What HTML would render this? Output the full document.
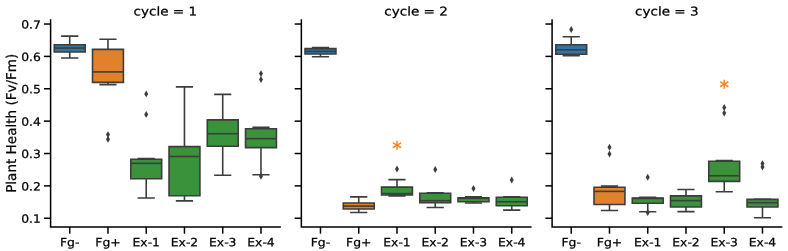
<!DOCTYPE html>
<html><head><meta charset="utf-8"><title>plot</title>
<style>html,body{margin:0;padding:0;background:#fff}svg{display:block}</style></head>
<body>
<svg width="788" height="251" viewBox="0 0 788 251" text-rendering="geometricPrecision" font-family="'DejaVu Sans', 'Liberation Sans', sans-serif">
<rect width="788" height="251" fill="#fff"/>
<g>
<g stroke="#3d3d3d" stroke-width="1.600" fill="none">
<path d="M54.27 52.00H85.17V44.70H54.27Z" fill="#3274a1" stroke-linejoin="miter"/>
<path d="M69.72 52.00V58.00M69.72 44.70V36.10"/>
<path d="M61.92 58.00H77.52M61.92 36.10H77.52" stroke-linecap="square"/>
<path d="M54.27 48.05H85.17"/>
</g>
<g stroke="#3d3d3d" stroke-width="1.600" fill="none">
<path d="M92.52 82.35H123.42V49.40H92.52Z" fill="#e1812c" stroke-linejoin="miter"/>
<path d="M107.97 82.35V84.60M107.97 49.40V39.30"/>
<path d="M100.17 84.60H115.77M100.17 39.30H115.77" stroke-linecap="square"/>
<path d="M92.52 71.90H123.42"/>
</g>
<path d="M107.97 131.15L109.97 134.60L107.97 138.05L105.97 134.60Z" fill="#3d3d3d" />
<path d="M107.97 135.85L109.97 139.30L107.97 142.75L105.97 139.30Z" fill="#3d3d3d" />
<g stroke="#3d3d3d" stroke-width="1.600" fill="none">
<path d="M130.78 178.70H161.67V159.30H130.78Z" fill="#3a923a" stroke-linejoin="miter"/>
<path d="M146.22 178.70V198.00M146.22 159.30V158.60"/>
<path d="M138.42 198.00H154.03M138.42 158.60H154.03" stroke-linecap="square"/>
<path d="M130.78 163.35H161.67"/>
</g>
<path d="M146.22 90.45L148.22 93.90L146.22 97.35L144.22 93.90Z" fill="#3d3d3d" />
<path d="M146.22 110.95L148.22 114.40L146.22 117.85L144.22 114.40Z" fill="#3d3d3d" />
<g stroke="#3d3d3d" stroke-width="1.600" fill="none">
<path d="M169.03 195.70H199.92V146.60H169.03Z" fill="#3a923a" stroke-linejoin="miter"/>
<path d="M184.47 195.70V200.90M184.47 146.60V86.90"/>
<path d="M176.67 200.90H192.28M176.67 86.90H192.28" stroke-linecap="square"/>
<path d="M169.03 156.50H199.92"/>
</g>
<g stroke="#3d3d3d" stroke-width="1.600" fill="none">
<path d="M207.28 146.30H238.17V119.85H207.28Z" fill="#3a923a" stroke-linejoin="miter"/>
<path d="M222.72 146.30V175.30M222.72 119.85V94.40"/>
<path d="M214.92 175.30H230.53M214.92 94.40H230.53" stroke-linecap="square"/>
<path d="M207.28 133.75H238.17"/>
</g>
<g stroke="#3d3d3d" stroke-width="1.600" fill="none">
<path d="M245.53 147.60H276.43V128.80H245.53Z" fill="#3a923a" stroke-linejoin="miter"/>
<path d="M260.98 147.60V174.70M260.98 128.80V127.25"/>
<path d="M253.18 174.70H268.78M253.18 127.25H268.78" stroke-linecap="square"/>
<path d="M245.53 138.70H276.43"/>
</g>
<path d="M260.98 70.15L262.98 73.60L260.98 77.05L258.98 73.60Z" fill="#3d3d3d" />
<path d="M260.98 76.05L262.98 79.50L260.98 82.95L258.98 79.50Z" fill="#3d3d3d" />
<path d="M260.98 172.85L262.98 176.30L260.98 179.75L258.98 176.30Z" fill="#3d3d3d" />
<path d="M50.60 20.10V227.00H280.10" fill="none" stroke="#000" stroke-width="1.500" stroke-linecap="square" stroke-linejoin="miter"/>
<path d="M69.72 227.00v6.67" stroke="#000" stroke-width="1.500"/>
<text transform="translate(69.72 246.20) rotate(0.03) scale(1.085 1)" font-size="11.4" fill="#000" stroke="#000" stroke-width="0.25" text-anchor="middle">Fg-</text>
<path d="M107.97 227.00v6.67" stroke="#000" stroke-width="1.500"/>
<text transform="translate(107.97 246.20) rotate(0.03) scale(1.085 1)" font-size="11.4" fill="#000" stroke="#000" stroke-width="0.25" text-anchor="middle">Fg+</text>
<path d="M146.22 227.00v6.67" stroke="#000" stroke-width="1.500"/>
<text transform="translate(146.22 246.20) rotate(0.03) scale(1.085 1)" font-size="11.4" fill="#000" stroke="#000" stroke-width="0.25" text-anchor="middle">Ex-1</text>
<path d="M184.47 227.00v6.67" stroke="#000" stroke-width="1.500"/>
<text transform="translate(184.47 246.20) rotate(0.03) scale(1.085 1)" font-size="11.4" fill="#000" stroke="#000" stroke-width="0.25" text-anchor="middle">Ex-2</text>
<path d="M222.72 227.00v6.67" stroke="#000" stroke-width="1.500"/>
<text transform="translate(222.72 246.20) rotate(0.03) scale(1.085 1)" font-size="11.4" fill="#000" stroke="#000" stroke-width="0.25" text-anchor="middle">Ex-3</text>
<path d="M260.98 227.00v6.67" stroke="#000" stroke-width="1.500"/>
<text transform="translate(260.98 246.20) rotate(0.03) scale(1.085 1)" font-size="11.4" fill="#000" stroke="#000" stroke-width="0.25" text-anchor="middle">Ex-4</text>
<path d="M50.60 218.25h-6.67" stroke="#000" stroke-width="1.500"/>
<text transform="translate(40.83 222.85) rotate(0.03) scale(1.085 1)" font-size="11.4" fill="#000" stroke="#000" stroke-width="0.25" text-anchor="end">0.1</text>
<path d="M50.60 185.88h-6.67" stroke="#000" stroke-width="1.500"/>
<text transform="translate(40.83 190.48) rotate(0.03) scale(1.085 1)" font-size="11.4" fill="#000" stroke="#000" stroke-width="0.25" text-anchor="end">0.2</text>
<path d="M50.60 153.51h-6.67" stroke="#000" stroke-width="1.500"/>
<text transform="translate(40.83 158.11) rotate(0.03) scale(1.085 1)" font-size="11.4" fill="#000" stroke="#000" stroke-width="0.25" text-anchor="end">0.3</text>
<path d="M50.60 121.14h-6.67" stroke="#000" stroke-width="1.500"/>
<text transform="translate(40.83 125.74) rotate(0.03) scale(1.085 1)" font-size="11.4" fill="#000" stroke="#000" stroke-width="0.25" text-anchor="end">0.4</text>
<path d="M50.60 88.77h-6.67" stroke="#000" stroke-width="1.500"/>
<text transform="translate(40.83 93.37) rotate(0.03) scale(1.085 1)" font-size="11.4" fill="#000" stroke="#000" stroke-width="0.25" text-anchor="end">0.5</text>
<path d="M50.60 56.40h-6.67" stroke="#000" stroke-width="1.500"/>
<text transform="translate(40.83 61.00) rotate(0.03) scale(1.085 1)" font-size="11.4" fill="#000" stroke="#000" stroke-width="0.25" text-anchor="end">0.6</text>
<path d="M50.60 24.03h-6.67" stroke="#000" stroke-width="1.500"/>
<text transform="translate(40.83 28.63) rotate(0.03) scale(1.085 1)" font-size="11.4" fill="#000" stroke="#000" stroke-width="0.25" text-anchor="end">0.7</text>
<text transform="translate(165.35 15.45) rotate(0.03) scale(1.12 1)" font-size="12.1" fill="#000" stroke="#000" stroke-width="0.25" text-anchor="middle">cycle = 1</text>
</g>
<g>
<g stroke="#3d3d3d" stroke-width="1.600" fill="none">
<path d="M305.03 54.00H335.93V48.60H305.03Z" fill="#3274a1" stroke-linejoin="miter"/>
<path d="M320.48 54.00V56.80M320.48 48.60V47.60"/>
<path d="M312.68 56.80H328.28M312.68 47.60H328.28" stroke-linecap="square"/>
<path d="M305.03 51.35H335.93"/>
</g>
<g stroke="#3d3d3d" stroke-width="1.600" fill="none">
<path d="M343.28 209.00H374.18V202.95H343.28Z" fill="#e1812c" stroke-linejoin="miter"/>
<path d="M358.73 209.00V212.55M358.73 202.95V196.85"/>
<path d="M350.93 212.55H366.53M350.93 196.85H366.53" stroke-linecap="square"/>
<path d="M343.28 206.10H374.18"/>
</g>
<g stroke="#3d3d3d" stroke-width="1.600" fill="none">
<path d="M381.53 195.00H412.43V187.15H381.53Z" fill="#3a923a" stroke-linejoin="miter"/>
<path d="M396.98 195.00V195.90M396.98 187.15V179.60"/>
<path d="M389.18 195.90H404.78M389.18 179.60H404.78" stroke-linecap="square"/>
<path d="M381.53 193.60H412.43"/>
</g>
<path d="M396.98 165.60L398.98 169.05L396.98 172.50L394.98 169.05Z" fill="#3d3d3d" />
<g stroke="#3d3d3d" stroke-width="1.600" fill="none">
<path d="M419.78 202.80H450.68V193.30H419.78Z" fill="#3a923a" stroke-linejoin="miter"/>
<path d="M435.23 202.80V207.55M435.23 193.30V192.90"/>
<path d="M427.43 207.55H443.03M427.43 192.90H443.03" stroke-linecap="square"/>
<path d="M419.78 200.70H450.68"/>
</g>
<path d="M435.23 166.10L437.23 169.55L435.23 173.00L433.23 169.55Z" fill="#3d3d3d" />
<g stroke="#3d3d3d" stroke-width="1.600" fill="none">
<path d="M458.03 201.70H488.93V197.90H458.03Z" fill="#3a923a" stroke-linejoin="miter"/>
<path d="M473.48 201.70V203.00M473.48 197.90V196.80"/>
<path d="M465.68 203.00H481.28M465.68 196.80H481.28" stroke-linecap="square"/>
<path d="M458.03 198.30H488.93"/>
</g>
<path d="M473.48 185.05L475.48 188.50L473.48 191.95L471.48 188.50Z" fill="#3d3d3d" />
<g stroke="#3d3d3d" stroke-width="1.600" fill="none">
<path d="M496.28 205.80H527.18V197.20H496.28Z" fill="#3a923a" stroke-linejoin="miter"/>
<path d="M511.73 205.80V210.10M511.73 197.20V196.80"/>
<path d="M503.93 210.10H519.52M503.93 196.80H519.52" stroke-linecap="square"/>
<path d="M496.28 201.75H527.18"/>
</g>
<path d="M511.73 176.55L513.73 180.00L511.73 183.45L509.73 180.00Z" fill="#3d3d3d" />
<text x="396.98" y="155.00" font-size="19" fill="#f97c12" stroke="#f97c12" stroke-width="0.3" text-anchor="middle">*</text>
<path d="M301.35 20.10V227.00H530.85" fill="none" stroke="#000" stroke-width="1.500" stroke-linecap="square" stroke-linejoin="miter"/>
<path d="M320.48 227.00v6.67" stroke="#000" stroke-width="1.500"/>
<text transform="translate(320.48 246.20) rotate(0.03) scale(1.085 1)" font-size="11.4" fill="#000" stroke="#000" stroke-width="0.25" text-anchor="middle">Fg-</text>
<path d="M358.73 227.00v6.67" stroke="#000" stroke-width="1.500"/>
<text transform="translate(358.73 246.20) rotate(0.03) scale(1.085 1)" font-size="11.4" fill="#000" stroke="#000" stroke-width="0.25" text-anchor="middle">Fg+</text>
<path d="M396.98 227.00v6.67" stroke="#000" stroke-width="1.500"/>
<text transform="translate(396.98 246.20) rotate(0.03) scale(1.085 1)" font-size="11.4" fill="#000" stroke="#000" stroke-width="0.25" text-anchor="middle">Ex-1</text>
<path d="M435.23 227.00v6.67" stroke="#000" stroke-width="1.500"/>
<text transform="translate(435.23 246.20) rotate(0.03) scale(1.085 1)" font-size="11.4" fill="#000" stroke="#000" stroke-width="0.25" text-anchor="middle">Ex-2</text>
<path d="M473.48 227.00v6.67" stroke="#000" stroke-width="1.500"/>
<text transform="translate(473.48 246.20) rotate(0.03) scale(1.085 1)" font-size="11.4" fill="#000" stroke="#000" stroke-width="0.25" text-anchor="middle">Ex-3</text>
<path d="M511.73 227.00v6.67" stroke="#000" stroke-width="1.500"/>
<text transform="translate(511.73 246.20) rotate(0.03) scale(1.085 1)" font-size="11.4" fill="#000" stroke="#000" stroke-width="0.25" text-anchor="middle">Ex-4</text>
<path d="M301.35 218.25h-6.67" stroke="#000" stroke-width="1.500"/>
<path d="M301.35 185.88h-6.67" stroke="#000" stroke-width="1.500"/>
<path d="M301.35 153.51h-6.67" stroke="#000" stroke-width="1.500"/>
<path d="M301.35 121.14h-6.67" stroke="#000" stroke-width="1.500"/>
<path d="M301.35 88.77h-6.67" stroke="#000" stroke-width="1.500"/>
<path d="M301.35 56.40h-6.67" stroke="#000" stroke-width="1.500"/>
<path d="M301.35 24.03h-6.67" stroke="#000" stroke-width="1.500"/>
<text transform="translate(416.10 15.45) rotate(0.03) scale(1.12 1)" font-size="12.1" fill="#000" stroke="#000" stroke-width="0.25" text-anchor="middle">cycle = 2</text>
</g>
<g>
<g stroke="#3d3d3d" stroke-width="1.600" fill="none">
<path d="M555.77 54.30H586.68V44.70H555.77Z" fill="#3274a1" stroke-linejoin="miter"/>
<path d="M571.23 54.30V55.65M571.23 44.70V36.80"/>
<path d="M563.43 55.65H579.02M563.43 36.80H579.02" stroke-linecap="square"/>
<path d="M555.77 49.80H586.68"/>
</g>
<path d="M571.23 26.00L573.23 29.45L571.23 32.90L569.23 29.45Z" fill="#3d3d3d" />
<g stroke="#3d3d3d" stroke-width="1.600" fill="none">
<path d="M594.02 204.50H624.93V187.20H594.02Z" fill="#e1812c" stroke-linejoin="miter"/>
<path d="M609.48 204.50V210.45M609.48 187.20V186.10"/>
<path d="M601.68 210.45H617.27M601.68 186.10H617.27" stroke-linecap="square"/>
<path d="M594.02 191.40H624.93"/>
</g>
<path d="M609.48 143.75L611.48 147.20L609.48 150.65L607.48 147.20Z" fill="#3d3d3d" />
<path d="M609.48 150.50L611.48 153.95L609.48 157.40L607.48 153.95Z" fill="#3d3d3d" />
<g stroke="#3d3d3d" stroke-width="1.600" fill="none">
<path d="M632.27 203.30H663.18V198.10H632.27Z" fill="#3a923a" stroke-linejoin="miter"/>
<path d="M647.73 203.30V211.80M647.73 198.10V197.25"/>
<path d="M639.93 211.80H655.52M639.93 197.25H655.52" stroke-linecap="square"/>
<path d="M632.27 198.45H663.18"/>
</g>
<path d="M647.73 173.85L649.73 177.30L647.73 180.75L645.73 177.30Z" fill="#3d3d3d" />
<path d="M647.73 209.15L649.73 212.60L647.73 216.05L645.73 212.60Z" fill="#3d3d3d" />
<g stroke="#3d3d3d" stroke-width="1.600" fill="none">
<path d="M670.52 207.00H701.43V195.90H670.52Z" fill="#3a923a" stroke-linejoin="miter"/>
<path d="M685.98 207.00V211.60M685.98 195.90V189.50"/>
<path d="M678.18 211.60H693.77M678.18 189.50H693.77" stroke-linecap="square"/>
<path d="M670.52 200.60H701.43"/>
</g>
<g stroke="#3d3d3d" stroke-width="1.600" fill="none">
<path d="M708.77 181.40H739.68V161.30H708.77Z" fill="#3a923a" stroke-linejoin="miter"/>
<path d="M724.23 181.40V191.70M724.23 161.30V160.65"/>
<path d="M716.43 191.70H732.02M716.43 160.65H732.02" stroke-linecap="square"/>
<path d="M708.77 175.80H739.68"/>
</g>
<path d="M724.23 104.05L726.23 107.50L724.23 110.95L722.23 107.50Z" fill="#3d3d3d" />
<path d="M724.23 109.65L726.23 113.10L724.23 116.55L722.23 113.10Z" fill="#3d3d3d" />
<g stroke="#3d3d3d" stroke-width="1.600" fill="none">
<path d="M747.02 206.95H777.93V199.35H747.02Z" fill="#3a923a" stroke-linejoin="miter"/>
<path d="M762.48 206.95V217.80M762.48 199.35V199.20"/>
<path d="M754.68 217.80H770.27M754.68 199.20H770.27" stroke-linecap="square"/>
<path d="M747.02 202.70H777.93"/>
</g>
<path d="M762.48 160.15L764.48 163.60L762.48 167.05L760.48 163.60Z" fill="#3d3d3d" />
<path d="M762.48 163.55L764.48 167.00L762.48 170.45L760.48 167.00Z" fill="#3d3d3d" />
<text x="724.23" y="94.00" font-size="19" fill="#f97c12" stroke="#f97c12" stroke-width="0.3" text-anchor="middle">*</text>
<path d="M552.10 20.10V227.00H781.60" fill="none" stroke="#000" stroke-width="1.500" stroke-linecap="square" stroke-linejoin="miter"/>
<path d="M571.23 227.00v6.67" stroke="#000" stroke-width="1.500"/>
<text transform="translate(571.23 246.20) rotate(0.03) scale(1.085 1)" font-size="11.4" fill="#000" stroke="#000" stroke-width="0.25" text-anchor="middle">Fg-</text>
<path d="M609.48 227.00v6.67" stroke="#000" stroke-width="1.500"/>
<text transform="translate(609.48 246.20) rotate(0.03) scale(1.085 1)" font-size="11.4" fill="#000" stroke="#000" stroke-width="0.25" text-anchor="middle">Fg+</text>
<path d="M647.73 227.00v6.67" stroke="#000" stroke-width="1.500"/>
<text transform="translate(647.73 246.20) rotate(0.03) scale(1.085 1)" font-size="11.4" fill="#000" stroke="#000" stroke-width="0.25" text-anchor="middle">Ex-1</text>
<path d="M685.98 227.00v6.67" stroke="#000" stroke-width="1.500"/>
<text transform="translate(685.98 246.20) rotate(0.03) scale(1.085 1)" font-size="11.4" fill="#000" stroke="#000" stroke-width="0.25" text-anchor="middle">Ex-2</text>
<path d="M724.23 227.00v6.67" stroke="#000" stroke-width="1.500"/>
<text transform="translate(724.23 246.20) rotate(0.03) scale(1.085 1)" font-size="11.4" fill="#000" stroke="#000" stroke-width="0.25" text-anchor="middle">Ex-3</text>
<path d="M762.48 227.00v6.67" stroke="#000" stroke-width="1.500"/>
<text transform="translate(762.48 246.20) rotate(0.03) scale(1.085 1)" font-size="11.4" fill="#000" stroke="#000" stroke-width="0.25" text-anchor="middle">Ex-4</text>
<path d="M552.10 218.25h-6.67" stroke="#000" stroke-width="1.500"/>
<path d="M552.10 185.88h-6.67" stroke="#000" stroke-width="1.500"/>
<path d="M552.10 153.51h-6.67" stroke="#000" stroke-width="1.500"/>
<path d="M552.10 121.14h-6.67" stroke="#000" stroke-width="1.500"/>
<path d="M552.10 88.77h-6.67" stroke="#000" stroke-width="1.500"/>
<path d="M552.10 56.40h-6.67" stroke="#000" stroke-width="1.500"/>
<path d="M552.10 24.03h-6.67" stroke="#000" stroke-width="1.500"/>
<text transform="translate(666.85 15.45) rotate(0.03) scale(1.12 1)" font-size="12.1" fill="#000" stroke="#000" stroke-width="0.25" text-anchor="middle">cycle = 3</text>
</g>
<text transform="translate(16.00 123.25) rotate(-90) scale(1 1)" font-size="13.55" fill="#000" stroke="#000" stroke-width="0.25" text-anchor="middle">Plant Health (Fv/Fm)</text>
</svg>
</body></html>
